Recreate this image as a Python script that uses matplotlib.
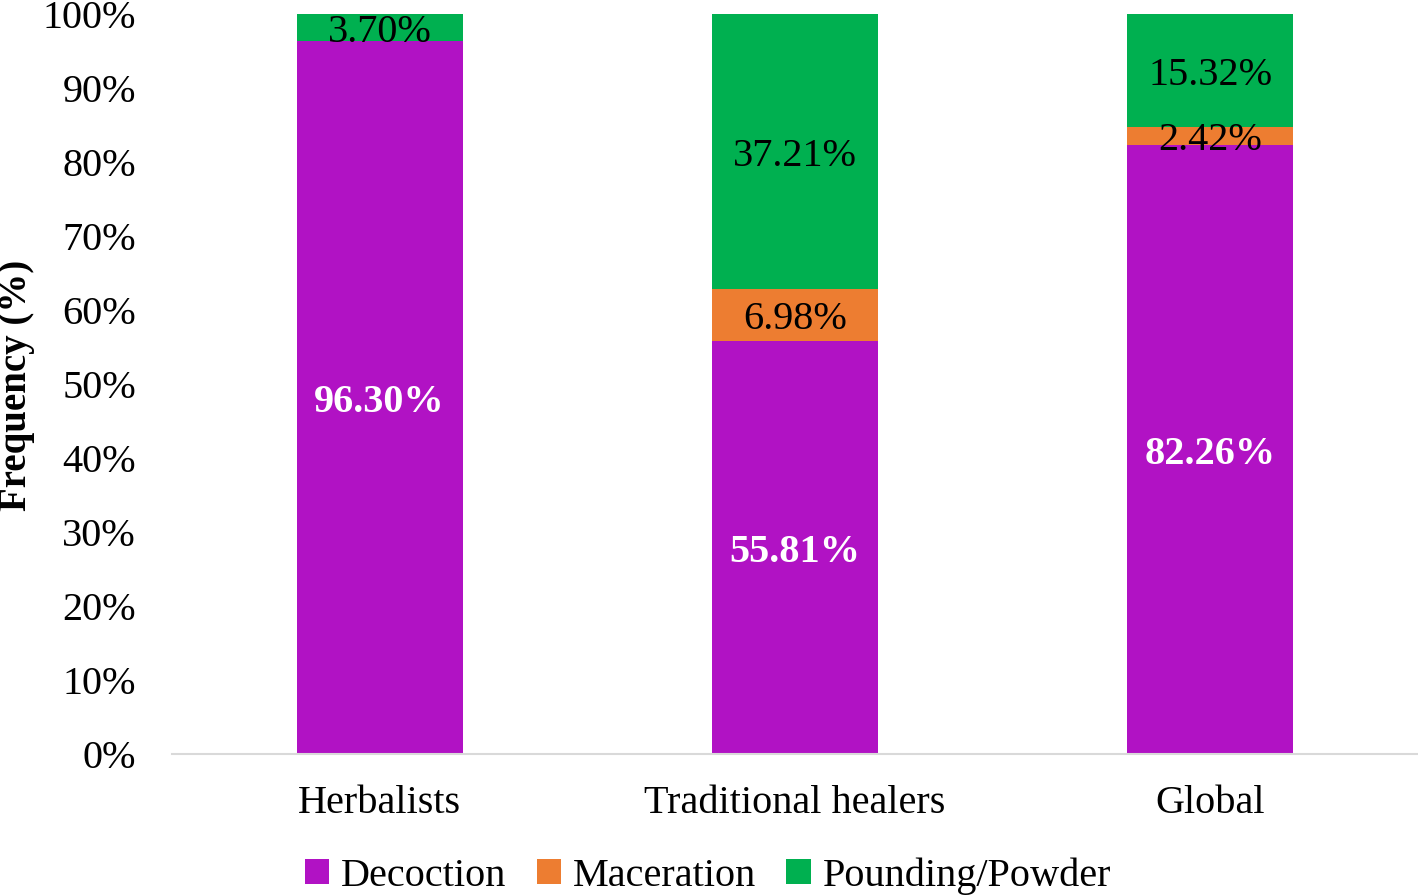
import matplotlib.pyplot as plt
from matplotlib.ticker import PercentFormatter
import numpy as np

plt.rcParams['font.family'] = ['Liberation Serif', 'DejaVu Serif']

groups = ['Herbalists', 'Traditional healers', 'Global']
methods = ['Decoction', 'Maceration', 'Pounding/Powder']
decoction = [96.30, 55.81, 82.26]
maceration = [0.0, 6.98, 2.42]
pounding = [3.70, 37.21, 15.32]

colors = ['#B112C4', '#ED7D31', '#00B050']
label_colors = ['white', 'black', 'black']
label_weights = ['bold', 'normal', 'normal']

fig = plt.figure(figsize=(14.18, 8.96), dpi=100)
ax = fig.add_axes([172 / 1418, 1 - 754 / 896, 1246 / 1418, 740 / 896])

x = np.arange(len(groups))
bottom = np.zeros(len(groups))
series = [decoction, maceration, pounding]
for name, vals, col, lc, lw in zip(methods, series, colors, label_colors, label_weights):
    vals = np.array(vals)
    ax.bar(x, vals, 0.4, bottom=bottom, color=col, label=name)
    for xi, v, b in zip(x, vals, bottom):
        if v > 0:
            ax.text(xi, b + v / 2, f'{v:.2f}%', ha='center', va='center_baseline',
                    fontsize=29, color=lc, fontweight=lw)
    bottom += vals

ax.set_xlim(-0.5, 2.5)
ax.set_ylim(0, 100)
ax.set_yticks(np.arange(0, 101, 10))
ax.yaxis.set_major_formatter(PercentFormatter(decimals=0))
ax.set_xticks(x)
ax.set_xticklabels(groups)
ax.tick_params(axis='both', length=0, labelsize=29)
ax.tick_params(axis='y', pad=26)
ax.tick_params(axis='x', pad=22)
for s in ['top', 'right', 'left']:
    ax.spines[s].set_visible(False)
ax.spines['bottom'].set_color('#D9D9D9')
ax.spines['bottom'].set_linewidth(1.5)

fig.text(17 / 1418, 1 - 385 / 896, 'Frequency (%)', rotation=90, ha='center', va='center',
         fontsize=28, fontweight='bold')

fig.legend(loc='center', bbox_to_anchor=(708 / 1418, 1 - 876 / 896), ncol=3, frameon=False,
           fontsize=29, handlelength=0.6, handleheight=0.6, handletextpad=0.3,
           columnspacing=0.75, borderpad=0)

fig.savefig('out.png', dpi=100)
